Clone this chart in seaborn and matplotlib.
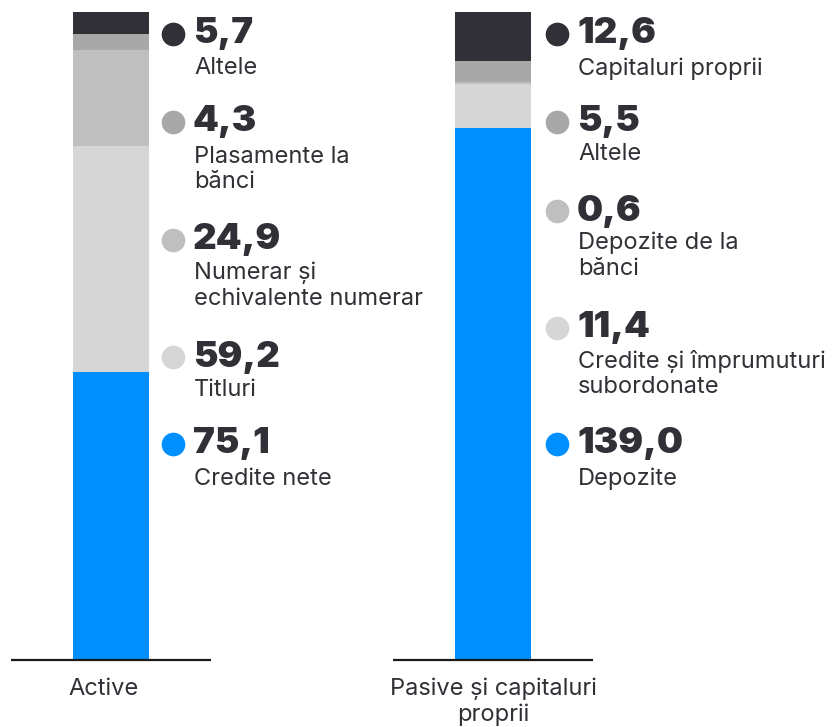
import numpy as np
import pandas as pd
import matplotlib
matplotlib.use("Agg")
import matplotlib.pyplot as plt
from matplotlib.transforms import IdentityTransform
import seaborn as sns

# Balance sheet structure (bottom segment first)
sides = ["Active", "Pasive și capitaluri proprii"]
active_values = [75.1, 59.2, 24.9, 4.3, 5.7]
active_labels = ["Credite nete", "Titluri", "Numerar și\nechivalente numerar",
                 "Plasamente la\nbănci", "Altele"]
passive_values = [139.0, 11.4, 0.6, 5.5, 12.6]
passive_labels = ["Depozite", "Credite și împrumuturi\nsubordonate",
                  "Depozite de la\nbănci", "Altele", "Capitaluri proprii"]
tick_labels = ["Active", "Pasive și capitaluri\nproprii"]

# Segment colours, bottom to top
seg_colors = ["#008FFF", "#D6D6D6", "#BFBFBF", "#A8A8A8", "#303036"]
TEXT = "#303036"

sns.set_theme(style="white")
plt.rcParams["font.family"] = ["Inter", "DejaVu Sans"]

W, H = 835, 727
fig = plt.figure(figsize=(W / 100, H / 100), dpi=100)
ax = fig.add_axes([0, 0, 1, 1])

# Value scale and category placement
px_per_cat = 382.0
px_per_unit = 648 / 169.2
bar_center_px = 111
base_px = 660

# Stacked bars drawn as overlapping cumulative bars, tallest first
cum_active = np.cumsum(active_values)
cum_passive = np.cumsum(passive_values)
for i in reversed(range(len(active_values))):
    df = pd.DataFrame({"side": sides, "value": [cum_active[i], cum_passive[i]]})
    sns.barplot(data=df, x="side", y="value", order=sides, color=seg_colors[i],
                saturation=1, width=76 / px_per_cat, linewidth=0, ax=ax,
                errorbar=None)

# Baselines under each bar
half = 100 / px_per_cat
for k in range(len(sides)):
    ax.hlines(0, k - half, k + half, color="#1a1a1a", linewidth=1.6, zorder=5)

ax.set_xlim(-bar_center_px / px_per_cat, (W - bar_center_px) / px_per_cat)
ax.set_ylim(-(H - base_px) / px_per_unit, base_px / px_per_unit)
ax.set_axis_off()


def put(x, y, s, **kw):
    fig.text(x, H - y, s, transform=IdentityTransform(), **kw)


def dot(x, y, c):
    ax.scatter([x], [H - y], s=290, color=c, transform=IdentityTransform(),
               clip_on=False, linewidths=0, zorder=6)


def fmt(v):
    return f"{v:.1f}".replace(".", ",")


# Annotation layout (top-down order)
left_num_y = [34, 122, 240, 357, 444]
left_lab_y = [57, 146, 262, 379, 468]
right_num_y = [34, 122, 211, 328, 444]
right_lab_y = [57, 143, 232, 350, 468]
columns = [
    (173, 193, active_values, active_labels, left_num_y, left_lab_y),
    (557, 577, passive_values, passive_labels, right_num_y, right_lab_y),
]
for dot_x, txt_x, vals, labs, ny, ly in columns:
    order = list(reversed(range(len(vals))))
    for j, i in enumerate(order):
        dot(dot_x, ny[j], seg_colors[i])
        put(txt_x, ny[j], fmt(vals[i]), fontsize=26.5, fontweight="black",
            color=TEXT, va="center", ha="left")
        put(txt_x + 1, ly[j], labs[i], fontsize=17, color=TEXT, va="top",
            ha="left", linespacing=1.2)

# Category labels
put(104, 678, tick_labels[0], fontsize=17, color=TEXT, va="top", ha="center")
put(493, 678, tick_labels[1], fontsize=17, color=TEXT, va="top", ha="center",
    linespacing=1.2)

fig.savefig("out.png", dpi=100, facecolor="white")
